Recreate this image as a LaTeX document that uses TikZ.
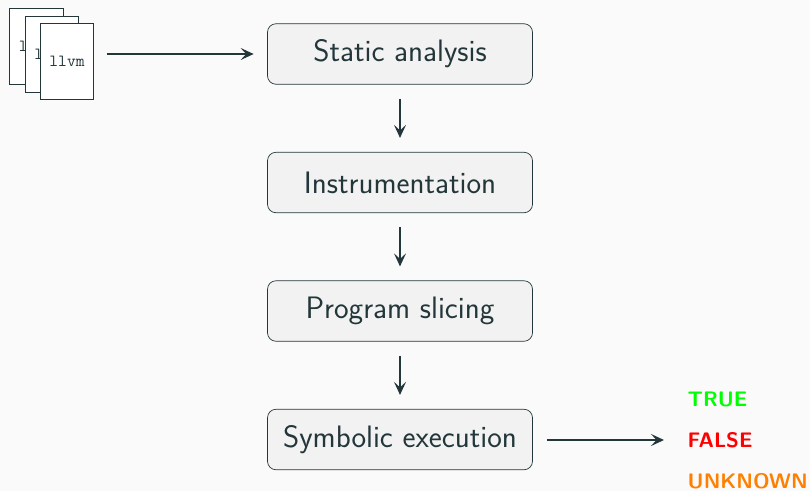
\documentclass[tikz,border=0pt]{standalone}
\usetikzlibrary{positioning,arrows.meta}
\definecolor{fgtext}{HTML}{23373B}
\definecolor{bgpage}{HTML}{FAFAFA}
\definecolor{boxfill}{HTML}{F2F2F2}
\definecolor{unkorange}{HTML}{FF8000}
\begin{document}
\begin{tikzpicture}[
    x=1pt, y=-1pt,
    color=fgtext,
    stagebox/.style={
        draw, fill=boxfill,
        rounded corners=8.5pt,
        line width=0.7pt,
        minimum width=265pt,
        minimum height=60.5pt,
        inner sep=0pt,
        font=\sffamily\fontsize{31}{36}\selectfont
    },
    llvmdoc/.style={
        draw, fill=white,
        line width=0.7pt,
        minimum width=53.5pt,
        minimum height=76pt,
        inner sep=0pt,
        font=\ttfamily\fontsize{17}{20}\selectfont
    },
    flow/.style={
        line width=1.7pt,
        -{Stealth[length=13pt,width=12pt,inset=5.5pt]}
    },
    verdict/.style={
        anchor=west, inner sep=0pt,
        font=\sffamily\bfseries\fontsize{21}{24}\selectfont
    }
]
\fill[bgpage] (0,0) rectangle (810,491);
\useasboundingbox (0,0) rectangle (810,491);

\node[stagebox] (static) at (400,54) {Static analysis};
\node[stagebox, below=67.3pt of static] (instr) {Instrumentation};
\node[stagebox, below=67.3pt of instr] (slicing) {Program slicing};
\node[stagebox, below=67.3pt of slicing] (symbolic) {Symbolic execution};

\node[llvmdoc] (doc1) at (36.5,46.2) {llvm};
\node[llvmdoc] (doc2) at (52,54.2) {llvm};
\node[llvmdoc] (doc3) at (67,61.7) {llvm};

\node[verdict, text=green] (true) at (687.5,399) {TRUE};
\node[verdict, text=red] (false) at (687.5,440) {FALSE};
\node[verdict, text=unkorange] (unknown) at (687.5,481) {UNKNOWN};

\draw[flow, shorten <=13pt, shorten >=13.5pt] (static.west -| doc3.east) -- (static);
\draw[flow, shorten <=14pt, shorten >=14pt] (static) -- (instr);
\draw[flow, shorten <=14pt, shorten >=14pt] (instr) -- (slicing);
\draw[flow, shorten <=14pt, shorten >=14pt] (slicing) -- (symbolic);
\draw[flow, shorten <=14pt, shorten >=23.5pt] (symbolic.east |- false.west) -- (false.west);
\end{tikzpicture}
\end{document}
